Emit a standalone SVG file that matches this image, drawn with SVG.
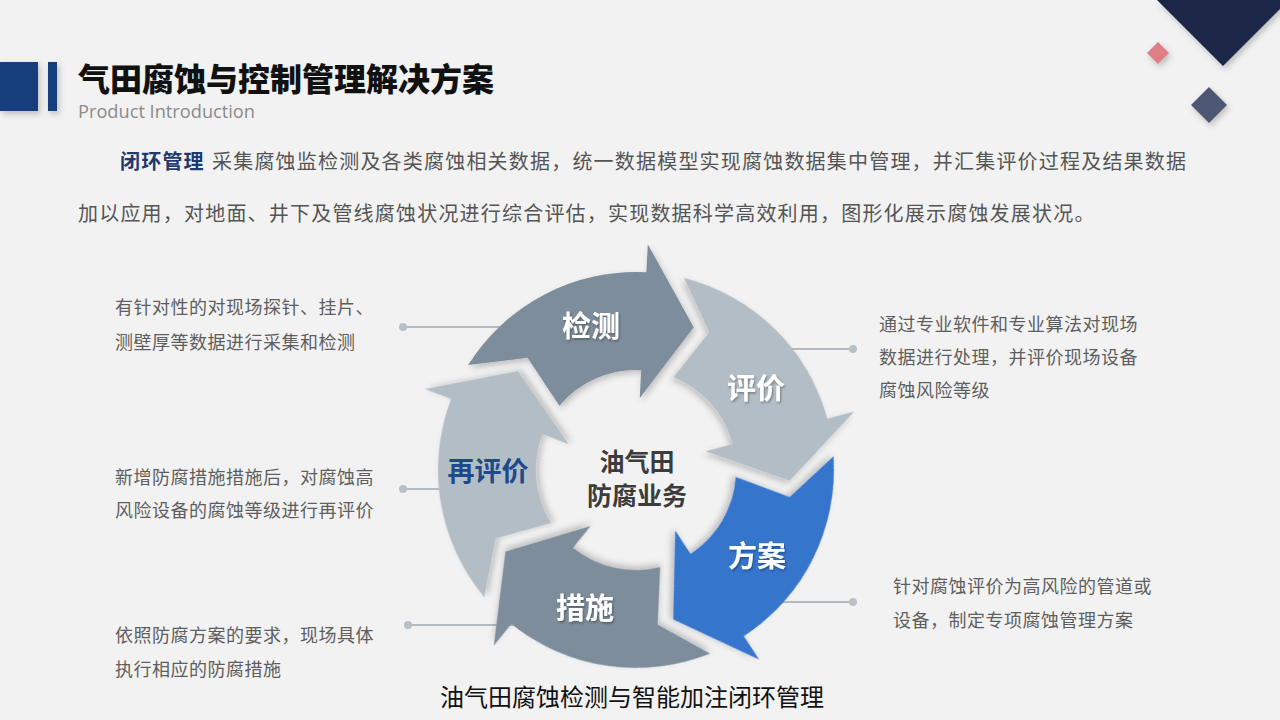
<svg xmlns="http://www.w3.org/2000/svg" width="1280" height="720" viewBox="0 0 1280 720">
  <defs>
    <style>
      .cjk { font-family: "Noto Sans CJK SC", "Liberation Sans", sans-serif; }
      .title { font-size: 32px; font-weight: 900; fill: #111111; }
      .sub { font-family: "Open Sans", "Liberation Sans", sans-serif; font-size: 19px; fill: #8a8a8a; }
      .para { font-size: 20px; letter-spacing: 1.2px; fill: #555555; }
      .paraB { font-size: 20px; letter-spacing: 1.2px; fill: #1f3a6e; font-weight: 700; }
      .side { font-size: 18px; letter-spacing: 0.5px; fill: #5e5e5e; }
      .lbl { font-size: 29px; font-weight: 700; fill: #ffffff; text-anchor: middle; }
      .lblD { font-size: 27px; font-weight: 700; fill: #1e4a8c; text-anchor: middle; }
      .ctr { font-size: 25px; font-weight: 700; fill: #3c3c3c; text-anchor: middle; }
      .cap { font-size: 24px; fill: #111111; }
      .ln { stroke: #b3bac1; stroke-width: 2; fill: none; }
      .dot { fill: #b9c0c7; }
      .dk { fill: #7d8d9b; }
      .lt { fill: #b3bdc5; }
      .bl { fill: #3674cc; }
    </style>
    <filter id="sh" x="-20%" y="-20%" width="140%" height="140%">
      <feDropShadow dx="2" dy="3" stdDeviation="3" flood-color="#000" flood-opacity="0.22"/>
    </filter>
    <filter id="tsh" x="-20%" y="-20%" width="140%" height="140%">
      <feDropShadow dx="1" dy="1.5" stdDeviation="1" flood-color="#000" flood-opacity="0.35"/>
    </filter>
    <path id="arr" d="M468.1,365.1 L527.6,357.8 L559.4,405.7 A100,100 0 0 1 641.2,370.1 L639.8,398.1 L693.7,327.2 L647.8,244.3 L646.4,272.3 A198,198 0 0 0 468.1,365.1 Z"/>
  </defs>

  <rect x="0" y="0" width="1280" height="720" fill="#f2f2f2"/>

  <!-- header decorations -->
  <g id="header">
    <g filter="url(#sh)">
      <rect x="0" y="62" width="38" height="49" fill="#123e7c"/>
      <rect x="48" y="62" width="9" height="49" fill="#123e7c"/>
    </g>
    <text class="cjk title" x="78" y="91">气田腐蚀与控制管理解决方案</text>
    <text class="sub" x="78" y="118" textLength="177" lengthAdjust="spacingAndGlyphs">Product Introduction</text>
  </g>

  <g id="corner" filter="url(#sh)">
    <polygon points="1157,0 1223,66 1289,0" fill="#1b2547"/>
    <polygon points="1158,42 1169,53 1158,64 1147,53" fill="#df7e84"/>
    <polygon points="1209,87 1227,105 1209,123 1191,105" fill="#4e5672"/>
  </g>

  <!-- intro paragraph -->
  <g id="intro" class="cjk">
    <text class="paraB" x="120" y="169">闭环管理</text>
    <text class="para" x="212" y="169">采集腐蚀监检测及各类腐蚀相关数据，统一数据模型实现腐蚀数据集中管理，并汇集评价过程及结果数据</text>
    <text class="para" x="78" y="221">加以应用，对地面、井下及管线腐蚀状况进行综合评估，实现数据科学高效利用，图形化展示腐蚀发展状况。</text>
  </g>

  <!-- connectors -->
  <g id="connectors">
    <line class="ln" x1="403" y1="327" x2="520" y2="327"/>
    <circle class="dot" cx="403" cy="327" r="4"/>
    <line class="ln" x1="403" y1="489" x2="450" y2="489"/>
    <circle class="dot" cx="403" cy="489" r="4"/>
    <line class="ln" x1="408" y1="625" x2="520" y2="625"/>
    <circle class="dot" cx="408" cy="625" r="4"/>
    <line class="ln" x1="780" y1="349" x2="853" y2="349"/>
    <circle class="dot" cx="853" cy="349" r="4"/>
    <line class="ln" x1="770" y1="602" x2="853" y2="602"/>
    <circle class="dot" cx="853" cy="602" r="4"/>
  </g>

  <!-- cycle arrows -->
  <g id="node-jiance">
    <use href="#arr" class="dk" filter="url(#sh)"/>
    <text class="cjk lbl" x="591" y="337" filter="url(#tsh)">检测</text>
  </g>
  <g id="node-pingjia">
    <use href="#arr" class="lt" filter="url(#sh)" transform="rotate(72 636 470)"/>
    <text class="cjk lbl" x="756" y="399" filter="url(#tsh)">评价</text>
  </g>
  <g id="node-fangan">
    <use href="#arr" class="bl" filter="url(#sh)" transform="rotate(144 636 470)"/>
    <text class="cjk lbl" x="757" y="567" filter="url(#tsh)">方案</text>
  </g>
  <g id="node-cuoshi">
    <use href="#arr" class="dk" filter="url(#sh)" transform="rotate(216 636 470)"/>
    <text class="cjk lbl" x="585" y="619" filter="url(#tsh)">措施</text>
  </g>
  <g id="node-zaipingjia">
    <use href="#arr" class="lt" filter="url(#sh)" transform="rotate(288 636 470)"/>
    <text class="cjk lblD" x="488" y="481">再评价</text>
  </g>

  <g id="node-center" class="cjk">
    <text class="ctr" x="637" y="471">油气田</text>
    <text class="ctr" x="637" y="505">防腐业务</text>
  </g>

  <!-- side descriptions -->
  <g id="desc-jiance" class="cjk side">
    <text x="115" y="314">有针对性的对现场探针、挂片、</text>
    <text x="115" y="349">测壁厚等数据进行采集和检测</text>
  </g>
  <g id="desc-zaipingjia" class="cjk side">
    <text x="115" y="484">新增防腐措施措施后，对腐蚀高</text>
    <text x="115" y="517">风险设备的腐蚀等级进行再评价</text>
  </g>
  <g id="desc-cuoshi" class="cjk side">
    <text x="115" y="642">依照防腐方案的要求，现场具体</text>
    <text x="115" y="676">执行相应的防腐措施</text>
  </g>
  <g id="desc-pingjia" class="cjk side">
    <text x="879" y="331">通过专业软件和专业算法对现场</text>
    <text x="879" y="364">数据进行处理，并评价现场设备</text>
    <text x="879" y="397">腐蚀风险等级</text>
  </g>
  <g id="desc-fangan" class="cjk side">
    <text x="893" y="593">针对腐蚀评价为高风险的管道或</text>
    <text x="893" y="627">设备，制定专项腐蚀管理方案</text>
  </g>

  <!-- caption -->
  <g id="caption" class="cjk">
    <text class="cap" x="440" y="706">油气田腐蚀检测与智能加注闭环管理</text>
  </g>
</svg>
